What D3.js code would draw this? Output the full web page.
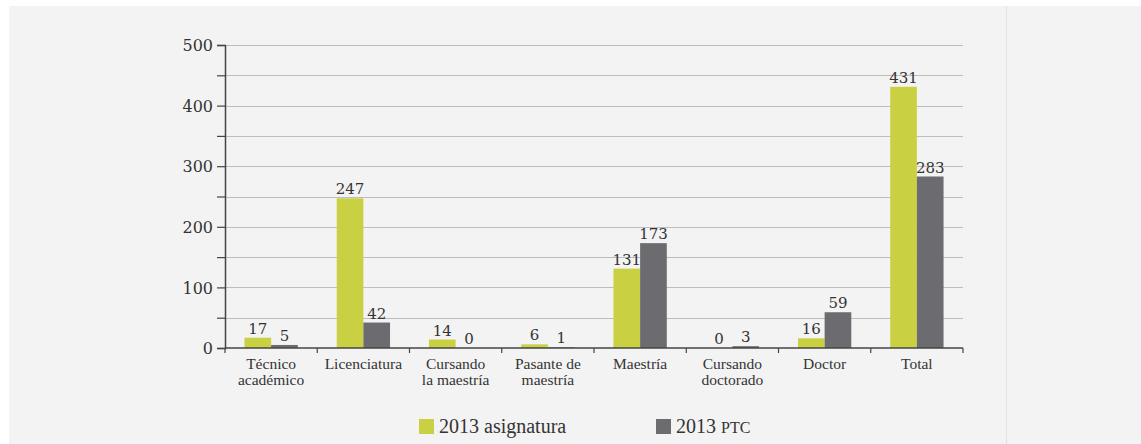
<!DOCTYPE html>
<html><head><meta charset="utf-8">
<script src="https://cdn.jsdelivr.net/npm/d3@7"></script>
<style>
body{margin:0;background:#fff;}
svg{display:block;}
text{fill:#333;}
.lib{font-family:"Liberation Serif",serif;}
.dv{font-family:"DejaVu Serif",serif;}
</style></head>
<body>
<svg id="c" width="1141" height="444"></svg>
<script>
const categories = [["Técnico","académico"],["Licenciatura"],["Cursando","la maestría"],["Pasante de","maestría"],["Maestría"],["Cursando","doctorado"],["Doctor"],["Total"]];
const seriesNames = ["2013 asignatura","2013 PTC"];
const asignatura = [17,247,14,6,131,0,16,431];
const ptc = [5,42,0,1,173,3,59,283];
const yTicks = [0,100,200,300,400,500];
const yMinor = [50,150,250,350,450];
const colors = ["#c9d142","#6b6b70"];

const svg = d3.select("#c");
svg.append("rect").attr("x",9).attr("y",6).attr("width",1132).attr("height",438).attr("fill","#f3f3f3");
svg.append("line").attr("x1",1006.5).attr("x2",1006.5).attr("y1",6).attr("y2",444).attr("stroke","#e2e2e2");

const x0 = 225, x1 = 963, yB = 348, yT = 45;
const x = d3.scaleBand().domain(d3.range(categories.length)).range([x0,x1]).paddingInner(0).paddingOuter(0);
const xs = d3.scaleBand().domain([0,1]).range([0,x.bandwidth()]).paddingInner(0).paddingOuter(0.73);
const y = d3.scaleLinear().domain([0,500]).range([yB,yT]);

// grid
svg.append("g").selectAll("line").data(yTicks.concat(yMinor).filter(d=>d>0)).join("line")
  .attr("x1",x0).attr("x2",x1).attr("y1",d=>Math.round(y(d))+0.5).attr("y2",d=>Math.round(y(d))+0.5)
  .attr("stroke","#bdbdbd").attr("stroke-width",1.2);

// bars
const data = categories.map((c,i)=>[asignatura[i],ptc[i]]);
const g = svg.append("g");
data.forEach((vals,i)=>{
  vals.forEach((v,s)=>{
    const bx = x(i)+xs(s);
    g.append("rect").attr("x",bx).attr("width",xs.bandwidth()).attr("y",y(v)).attr("height",yB-y(v)).attr("fill",colors[s]);
    g.append("text").attr("class","dv").attr("x",bx+xs.bandwidth()/2).attr("y",y(v)-4).attr("text-anchor","middle")
      .attr("font-size",15).text(v);
  });
});

// y axis
const yAxis = d3.axisLeft(y).tickValues(yTicks.concat(yMinor).sort((a,b)=>a-b)).tickSize(8).tickFormat(d=>yTicks.includes(d)?d:"");
const ya = svg.append("g").attr("transform",`translate(${x0},0)`).call(yAxis);
ya.attr("font-family",null);
ya.select(".domain").attr("stroke","#444").attr("stroke-width",1.5);
ya.selectAll(".tick line").attr("stroke","#444").attr("stroke-width",1.2);
ya.selectAll(".tick text").attr("class","dv").attr("font-size",16).attr("fill","#333").attr("x",-12).attr("dy","0.36em");

// x axis
const xa = svg.append("g").attr("transform",`translate(0,${yB})`);
xa.append("line").attr("x1",x0).attr("x2",x1).attr("stroke","#444").attr("stroke-width",1.5);
xa.selectAll("line.t").data(d3.range(categories.length+1)).join("line").attr("class","t")
  .attr("x1",d=>x0+d*x.bandwidth()).attr("x2",d=>x0+d*x.bandwidth()).attr("y1",0).attr("y2",5).attr("stroke","#444").attr("stroke-width",1.2);
categories.forEach((c,i)=>{
  const t = xa.append("text").attr("class","lib").attr("text-anchor","middle").attr("font-size",15.5);
  c.forEach((line,k)=>t.append("tspan").attr("x",x(i)+x.bandwidth()/2).attr("y",21+k*15.5).text(line));
});

// legend
const leg = [{x:419,label:"2013 asignatura"},{x:656,label:"2013 PTC"}];
leg.forEach((l,i)=>{
  svg.append("rect").attr("x",l.x).attr("y",419).attr("width",15).attr("height",15).attr("fill",colors[i]);
  const t = svg.append("text").attr("class","lib").attr("x",l.x+20).attr("y",432.5).attr("font-size",20);
  if(i===0) t.text(seriesNames[0]);
  else { t.append("tspan").text("2013 "); t.append("tspan").attr("font-size",16).text("PTC"); }
});
</script>
</body></html>
